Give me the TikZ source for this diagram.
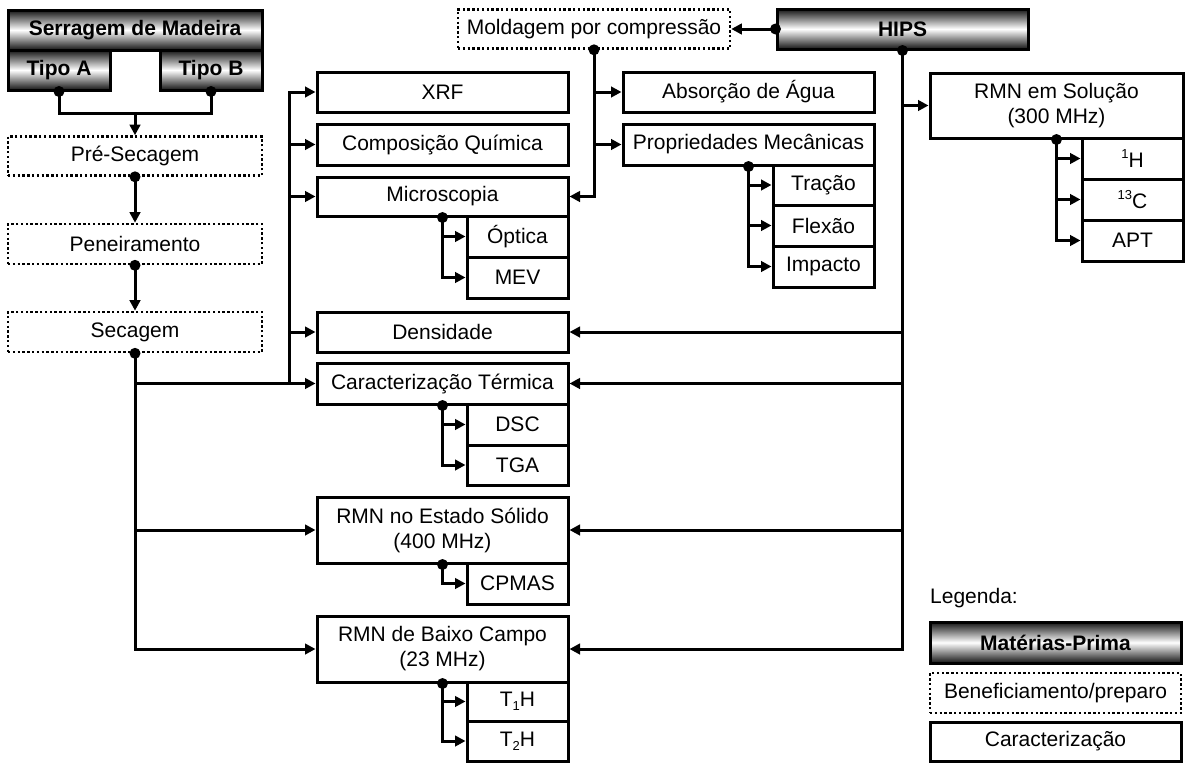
\documentclass[tikz,border=0pt]{standalone}
\usepackage{fontspec}
\setmainfont{Liberation Sans}
\usetikzlibrary{arrows.meta}
\newcommand{\supx}[1]{\raisebox{0.75ex}{\fontsize{13}{13}\selectfont #1}}
\newcommand{\subx}[1]{\raisebox{-0.4ex}{\fontsize{13}{13}\selectfont #1}}
\begin{document}
\begin{tikzpicture}[x=1pt,y=-1pt,
  every node/.style={rectangle, inner sep=0pt, font=\fontsize{21}{25}\selectfont, align=center},
  cbox/.style={draw, line width=3pt, fill=white},
  pbox/.style={draw, line width=2.6pt, dash pattern=on 2.4pt off 2.4pt},
  rbox/.style={draw, line width=3pt, top color=black!92, bottom color=black!92, middle color=white, font=\fontsize{21}{25}\selectfont\bfseries},
  conn/.style={line width=3pt},
  arr/.style={conn, -{Triangle[length=10.5pt,width=10.5pt]}},
  sz/.style 2 args={minimum width=#1pt, minimum height=#2pt}
]
\useasboundingbox (0,0) rectangle (1186,763);

% raw materials
\node[rbox, sz={254}{40}] (serr) at (135,30) {Serragem de Madeira};
\node[rbox, sz={102}{40}] (tipoA) at (59,70) {Tipo A};
\node[rbox, sz={102}{40}] (tipoB) at (211,70) {Tipo B};
\node[rbox, sz={251}{40}] (hips) at (902.5,29) {HIPS};

% processing
\node[pbox, sz={254}{39}] (presec) at (135,156) {Pré-Secagem};
\node[pbox, sz={254}{40}] (pene) at (135,244) {Peneiramento};
\node[pbox, sz={254}{40}] (sec) at (135,332) {Secagem};
\node[pbox, sz={272}{39}] (mold) at (594,29) {Moldagem por compressão};

% characterization (left column)
\node[cbox, sz={251}{40}] (xrf) at (442.5,92) {XRF};
\node[cbox, sz={251}{41}] (comp) at (442.5,144.5) {Composição Química};
\node[cbox, sz={251}{39}] (micro) at (442.5,196.5) {Microscopia};
\node[cbox, sz={101}{41}] (opt) at (517.5,236.5) {Óptica};
\node[cbox, sz={101}{41}] (mev) at (517.5,277.5) {MEV};
\node[cbox, sz={251}{40}] (dens) at (442.5,332) {Densidade};
\node[cbox, sz={251}{41}] (ct) at (442.5,383.5) {Caracterização Térmica};
\node[cbox, sz={101}{41}] (dsc) at (517.5,424.5) {DSC};
\node[cbox, sz={101}{40}] (tga) at (517.5,465) {TGA};
\node[cbox, sz={251}{66}] (rmns) at (442.5,530) {RMN no Estado Sólido\\(400 MHz)};
\node[cbox, sz={101}{41}] (cpmas) at (517.5,583.5) {CPMAS};
\node[cbox, sz={251}{66}] (rmnb) at (442.5,649) {RMN de Baixo Campo\\(23 MHz)};
\node[cbox, sz={101}{39}] (t1) at (517.5,701.5) {T\subx{1}H};
\node[cbox, sz={101}{40}] (t2) at (517.5,741) {T\subx{2}H};

% characterization (middle)
\node[cbox, sz={251}{40}] (abs) at (748.5,92) {Absorção de Água};
\node[cbox, sz={251}{41}] (prop) at (748.5,144.5) {Propriedades Mecânicas};
\node[cbox, sz={101}{40}] (trac) at (823.5,185) {Tração};
\node[cbox, sz={101}{41}] (flex) at (823.5,225.5) {Flexão};
\node[cbox, sz={101}{41}] (imp) at (823.5,266.5) {Impacto};

% characterization (right)
\node[cbox, sz={253}{65}] (rmnsol) at (1056.5,105.5) {RMN em Solução\\(300 MHz)};
\node[cbox, sz={101}{41}] (h1) at (1132.5,158.5) {\supx{1}H};
\node[cbox, sz={101}{41}] (c13) at (1132.5,199.5) {\supx{13}C};
\node[cbox, sz={101}{41}] (apt) at (1132.5,240.5) {APT};

% legend
\node[anchor=west] (leg) at (930,598) {Legenda:};
\node[rbox, sz={251}{41}] (lmp) at (1055.5,642.5) {Matérias-Prima};
\node[pbox, sz={251}{40}] (lben) at (1055.5,693) {Beneficiamento/preparo};
\node[cbox, sz={251}{39}] (lcar) at (1055.5,741.5) {Caracterização};

% --- connectors: wood chain
\coordinate (j1) at (135,113);
\draw[conn] (tipoA.south) |- (j1) -| (tipoB.south);
\draw[arr] (j1) -- (presec.north);
\draw[arr] (presec.south) -- (pene.north);
\draw[arr] (pene.south) -- (sec.north);

% Secagem trunk
\coordinate (lt) at (289,0);
\draw[arr] (sec.south) |- (rmnb.west);
\draw[arr] (sec.south |- rmns.west) -- (rmns.west);
\draw[arr] (sec.south |- ct.west) -- (ct.west);
\draw[arr] (lt |- ct.west) |- (xrf.west);
\draw[arr] (lt |- comp.west) -- (comp.west);
\draw[arr] (lt |- micro.west) -- (micro.west);
\draw[arr] (lt |- dens.west) -- (dens.west);

% HIPS trunk
\draw[arr] (hips.south) |- (rmnb.east);
\draw[arr] (hips.south |- rmns.east) -- (rmns.east);
\draw[arr] (hips.south |- ct.east) -- (ct.east);
\draw[arr] (hips.south |- dens.east) -- (dens.east);
\draw[arr] (hips.south |- rmnsol.west) -- (rmnsol.west);
\draw[arr] (hips.west) -- (mold.east);

% Moldagem trunk
\draw[arr] (mold.south) |- (micro.east);
\draw[arr] (mold.south |- abs.west) -- (abs.west);
\draw[arr] (mold.south |- prop.west) -- (prop.west);

% sub-branches
\draw[arr] (micro.south) |- (mev.west);
\draw[arr] (micro.south |- opt.west) -- (opt.west);
\draw[arr] (ct.south) |- (tga.west);
\draw[arr] (ct.south |- dsc.west) -- (dsc.west);
\draw[arr] (rmns.south) |- (cpmas.west);
\draw[arr] (rmnb.south) |- (t2.west);
\draw[arr] (rmnb.south |- t1.west) -- (t1.west);
\draw[arr] (prop.south) |- (imp.west);
\draw[arr] (prop.south |- trac.west) -- (trac.west);
\draw[arr] (prop.south |- flex.west) -- (flex.west);
\draw[arr] (rmnsol.south) |- (apt.west);
\draw[arr] (rmnsol.south |- h1.west) -- (h1.west);
\draw[arr] (rmnsol.south |- c13.west) -- (c13.west);

% dots
\foreach \p in {tipoA.south, tipoB.south, presec.south, pene.south, sec.south,
  hips.south, hips.west, mold.south, micro.south, ct.south, rmns.south,
  rmnb.south, prop.south, rmnsol.south}
  \fill (\p) circle (5.5pt);
\end{tikzpicture}
\end{document}
